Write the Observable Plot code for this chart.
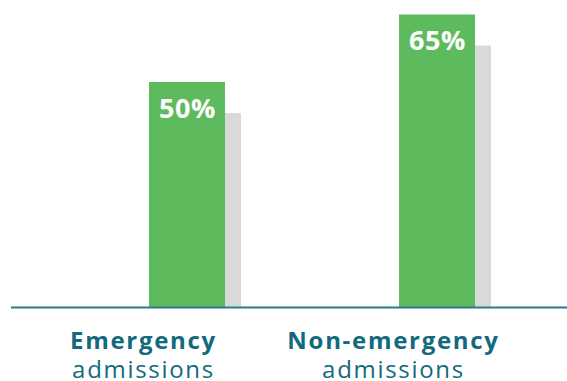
<!DOCTYPE html>
<html>
<head>
<meta charset="utf-8">
<script src="https://cdn.jsdelivr.net/npm/d3@7"></script>
<script src="https://cdn.jsdelivr.net/npm/@observablehq/plot@0.6"></script>
<style>
  html, body { margin: 0; padding: 0; background: #fff; }
  svg { display: block; }
  .cat-label text { letter-spacing: 1.7px; }
  .val-label text { letter-spacing: 0.6px; }
</style>
</head>
<body>
<div id="chart"></div>
<script>
const categories = ["Emergency", "Non-emergency"];
const values = [50, 65];
const labelLine1 = ["Emergency", "Non-emergency"];
const labelLine2 = ["admissions", "admissions"];
const valueLabels = ["50%", "65%"];

const data = categories.map((c, i) => ({
  cat: c, value: values[i], label: valueLabels[i], l1: labelLine1[i], l2: labelLine2[i]
}));

const shadowDrop = 6.9; // shadow top sits slightly lower than bar top
const teal = "#13697d";
const font = "'Open Sans', sans-serif";

const chart = Plot.plot({
  width: 567,
  height: 381,
  marginLeft: 11,
  marginRight: 0,
  marginTop: 0,
  marginBottom: 74,
  style: { background: "#fff", fontFamily: font },
  x: { domain: categories, range: [149, 475], paddingInner: 0.696, paddingOuter: 0, axis: null },
  y: { domain: [0, 65], range: [307, 14.5], axis: null },
  marks: [
    Plot.barY(data, { x: "cat", y1: 0, y2: d => d.value - shadowDrop, dx: 16, fill: "#d9d9d9" }),
    Plot.barY(data, { x: "cat", y1: 0, y2: "value", fill: "#5dbb5d" }),
    Plot.ruleY([0], { stroke: "#2b7b8f", strokeWidth: 2 }),
    Plot.text(data, { x: "cat", y: "value", text: "label", dy: 35, lineAnchor: "bottom",
      fill: "#fff", fontSize: 27, fontWeight: "bold", fontFamily: font, className: "val-label" }),
    Plot.text(data, { x: "cat", y: 0, text: "l1", dx: -44, dy: 41, lineAnchor: "bottom",
      fill: teal, fontSize: 24, fontWeight: "bold", fontFamily: font, className: "cat-label" }),
    Plot.text(data, { x: "cat", y: 0, text: "l2", dx: -44, dy: 70, lineAnchor: "bottom",
      fill: teal, fontSize: 24, fontWeight: "normal", fontFamily: font, className: "cat-label" })
  ]
});
document.getElementById("chart").appendChild(chart);
</script>
</body>
</html>
